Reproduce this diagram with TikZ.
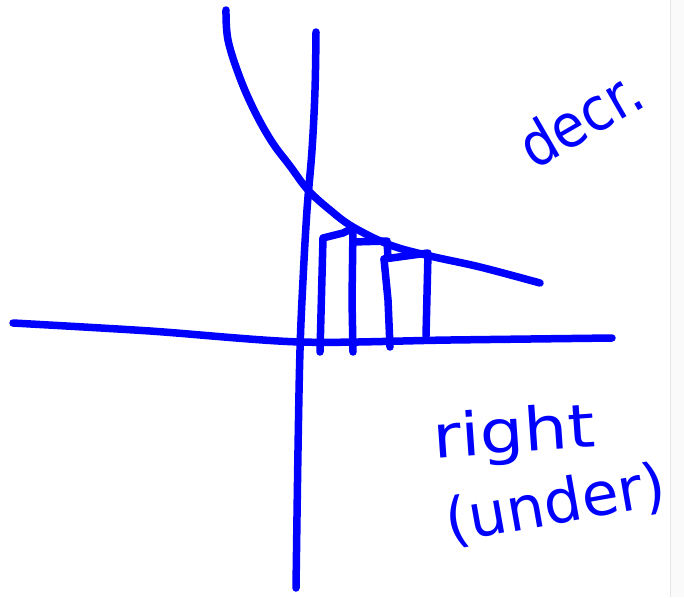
\documentclass[tikz,border=0pt]{standalone}
\usepackage{fontspec}
\setmainfont{DejaVu Sans}
\usepackage{tikz}
\usetikzlibrary{positioning,calc}
\tikzstyle{stroke} = [blue, line width=7.5pt, line cap=round, line join=round]
\tikzstyle{note} = [blue, inner sep=0pt, font=\fontsize{60}{64}\selectfont]

\begin{document}
\begin{tikzpicture}[x=1pt, y=-1pt]
    \useasboundingbox (0,0) rectangle (684,597);
    \fill[black!2] (670,0) rectangle (684,597);
    \draw[black!10, line width=1pt] (670,0) -- (670,597);
    % axes
    \draw[stroke] plot[smooth, tension=0.6] coordinates {(316,32) (315,90) (312,150) (307,210) (303,280) (300,350) (298,450) (296,588)};
    \draw[stroke] plot[smooth, tension=0.5] coordinates {(13,323) (150,331) (300,342) (450,340) (612,338)};
    % decreasing curve
    \draw[stroke] plot[smooth, tension=0.6] coordinates {(226,10) (228,40) (240,78) (255,112) (272,142) (290,166) (308,190) (330,210) (353,227) (390,245) (430,256) (480,267) (540,283)};
    % right rectangles
    \draw[stroke] (320,352) -- (323,238) -- (343,233) -- (353,228);
    \draw[stroke] (353,228) -- (352,300) -- (353,352);
    \draw[stroke] (353,242) -- (387,241) -- (388,258);
    \draw[stroke] (384,259) -- (388,300) -- (390,347);
    \draw[stroke] (384,259) -- (428,253) -- (426,336);
    % labels
    \node[note, rotate=30, xscale=0.9] (decr) at (580,118) {decr.};
    \node[note, rotate=4, xscale=1.15] (right) at (514,436) {right};
    \node[note, rotate=10] (under) at (556,505) {(under)};
\end{tikzpicture}
\end{document}
